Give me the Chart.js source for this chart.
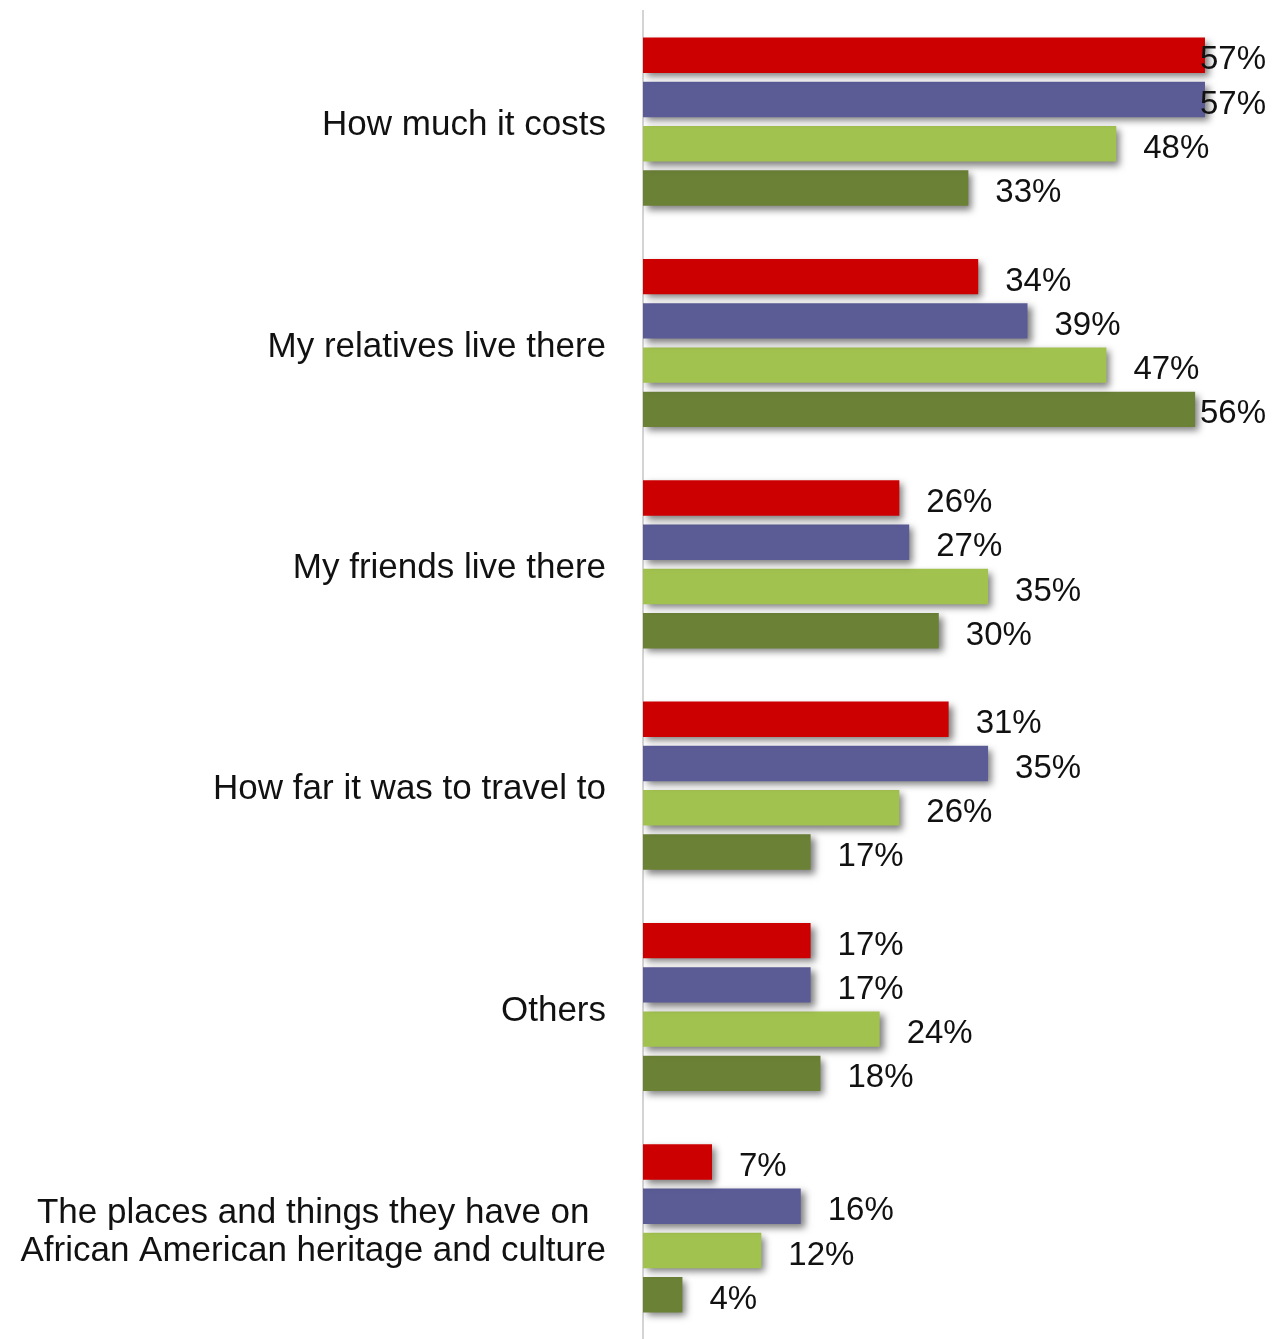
<!DOCTYPE html>
<html>
<head>
<meta charset="utf-8">
<script src="https://cdn.jsdelivr.net/npm/chart.js@4.4.0/dist/chart.umd.min.js"></script>
<style>
  html, body { margin: 0; padding: 0; background: #ffffff; }
  #wrap { width: 1274px; height: 1339px; position: relative; }
</style>
</head>
<body>
<div id="wrap"><canvas id="c"></canvas></div>
<script>
const categories = [
  ['How much it costs'],
  ['My relatives live there'],
  ['My friends live there'],
  ['How far it was to travel to'],
  ['Others'],
  ['The places and things they have on', 'African American heritage and culture']
];
const seriesNames = ['Series 1', 'Series 2', 'Series 3', 'Series 4'];
const series1 = [57, 34, 26, 31, 17, 7];
const series2 = [57, 39, 27, 35, 17, 16];
const series3 = [48, 47, 35, 26, 24, 12];
const series4 = [33, 56, 30, 17, 18, 4];
const seriesColors = ['#CC0000', '#5B5B96', '#A2C250', '#6B8136'];

const FONT = '"Liberation Sans", Arial, sans-serif';

const shadowPlugin = {
  id: 'barShadow',
  beforeDatasetsDraw(chart) {
    const ctx = chart.ctx;
    ctx.save();
    ctx.shadowColor = 'rgba(0,0,0,0.5)';
    ctx.shadowBlur = 7;
    ctx.shadowOffsetX = 4;
    ctx.shadowOffsetY = 4;
  },
  afterDatasetsDraw(chart) {
    chart.ctx.restore();
  }
};

const valueLabelPlugin = {
  id: 'valueLabels',
  afterDatasetsDraw(chart) {
    const ctx = chart.ctx;
    const area = chart.chartArea;
    ctx.save();
    ctx.font = '33px ' + FONT;
    ctx.fillStyle = '#111111';
    ctx.textBaseline = 'middle';
    ctx.textAlign = 'left';
    chart.data.datasets.forEach((ds, di) => {
      const meta = chart.getDatasetMeta(di);
      meta.data.forEach((bar, i) => {
        const txt = ds.data[i] + '%';
        const w = ctx.measureText(txt).width;
        let x = bar.x + 27;
        const maxX = area.right - 8 - w;
        if (x > maxX) x = maxX;
        ctx.fillText(txt, x, bar.y + 5);
      });
    });
    ctx.restore();
  }
};

const categoryLabelPlugin = {
  id: 'categoryLabels',
  afterDraw(chart) {
    const ctx = chart.ctx;
    const yScale = chart.scales.y;
    const rightX = yScale.right - 37;
    ctx.save();
    ctx.font = '35px ' + FONT;
    ctx.fillStyle = '#111111';
    ctx.textBaseline = 'middle';
    ctx.textAlign = 'center';
    const lineH = 38;
    categories.forEach((lines, i) => {
      const cy = yScale.getPixelForValue(i);
      let maxW = 0;
      lines.forEach(l => { maxW = Math.max(maxW, ctx.measureText(l).width); });
      const cx = rightX - maxW / 2;
      const startY = cy - (lines.length - 1) * lineH / 2;
      lines.forEach((l, k) => ctx.fillText(l, cx, startY + k * lineH + 4));
    });
    ctx.restore();
  }
};

const values = [series1, series2, series3, series4];

new Chart(document.getElementById('c'), {
  type: 'bar',
  data: {
    labels: categories.map(c => c.join(' ')),
    datasets: values.map((v, i) => ({
      label: seriesNames[i],
      data: v,
      backgroundColor: seriesColors[i],
      borderWidth: 0,
      barPercentage: 0.8,
      categoryPercentage: 0.8
    }))
  },
  options: {
    indexAxis: 'y',
    responsive: true,
    maintainAspectRatio: false,
    animation: false,
    layout: { padding: { top: 11, right: 0, bottom: 0, left: 0 } },
    plugins: {
      legend: { display: false },
      tooltip: { enabled: false }
    },
    scales: {
      x: {
        display: false,
        min: 0,
        max: 64,
        grid: { display: false }
      },
      y: {
        grid: { display: false },
        border: { display: true, color: '#d4d4d4', width: 2 },
        ticks: { display: false },
        afterFit(scale) { scale.width = 643; }
      }
    }
  },
  plugins: [shadowPlugin, valueLabelPlugin, categoryLabelPlugin]
});
</script>
</body>
</html>
